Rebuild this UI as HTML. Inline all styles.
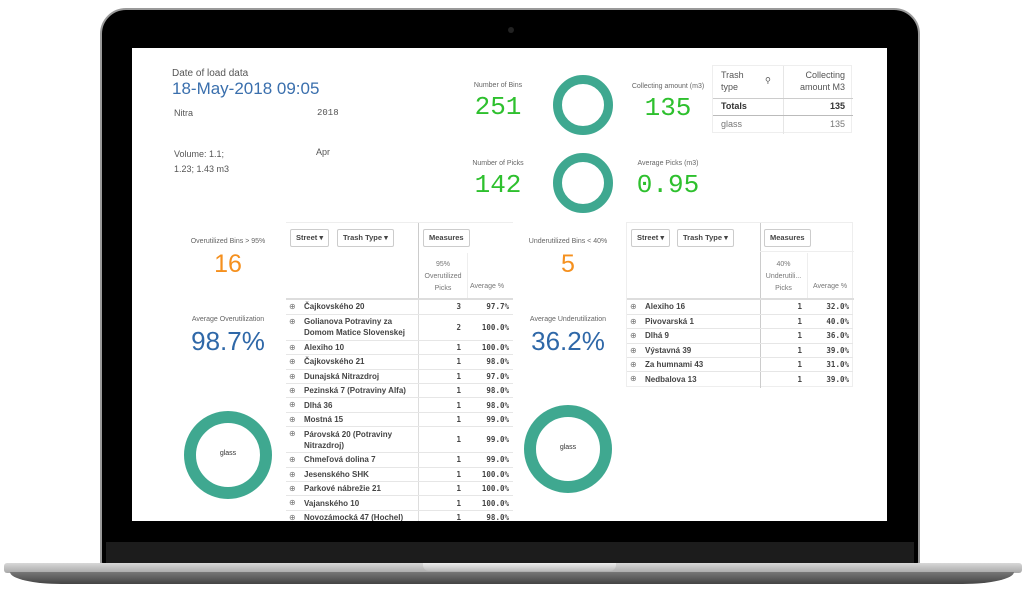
<!DOCTYPE html>
<html><head><meta charset="utf-8"><style>
*{margin:0;padding:0;box-sizing:border-box}
body{width:1024px;height:598px;background:#fff;position:relative;overflow:hidden;font-family:"Liberation Sans",sans-serif;color:#555}
.a{position:absolute;white-space:nowrap}
.c{text-align:center}
.lab{font-size:7px;color:#666}
.mono{font-family:"Liberation Mono","DejaVu Sans Mono",monospace}
.donut{position:absolute;border-radius:50%;border-style:solid;border-color:#3fa890;background:#fff}
table{border-collapse:collapse;font-size:8px}
.t td{height:14.4px;line-height:11px;padding-top:0;padding-bottom:0;border-bottom:1px solid #e6e6e6;font-weight:bold;color:#444}
.t td.n{padding-left:18px;position:relative}
.t td.n:before{content:"⊕";position:absolute;left:3px;top:1px;color:#777;font-weight:normal}
.t td.r{text-align:right;padding-right:4px;font-family:"DejaVu Sans Mono",monospace;font-size:7.5px}
.t td.p{border-left:1px solid #ddd}
.btn{position:absolute;border:1px solid #ccc;border-radius:2px;font-size:7.5px;font-weight:bold;color:#444;height:18px;line-height:16px;padding:0 5px}
</style></head><body>
<!-- laptop -->
<div class="a" style="left:100px;top:8px;width:820px;height:560px;background:#000;border-radius:26px 26px 6px 6px;border:2px solid #9a9a9a"></div>
<div class="a" style="left:106px;top:542px;width:808px;height:22px;background:#1c1c1c"></div>
<div class="a" style="left:4px;top:563px;width:1018px;height:10px;background:linear-gradient(#d8d8d8,#a8a8a8);border-radius:3px"></div>
<div class="a" style="left:10px;top:572px;width:1004px;height:12px;background:linear-gradient(#777,#444);border-radius:0 0 60px 60px/0 0 14px 14px"></div>
<div class="a" style="left:423px;top:563px;width:193px;height:8px;background:linear-gradient(#eee,#bbb);border-radius:0 0 6px 6px"></div>
<div class="a" style="left:508px;top:27px;width:6px;height:6px;border-radius:50%;background:#222"></div>
<!-- screen -->
<div class="a" style="left:132px;top:48px;width:755px;height:473px;background:#fff"></div>

<div class="a" style="left:172px;top:68px;font-size:10px;color:#555">Date of load data</div>
<div class="a" style="left:172px;top:79px;font-size:17px;color:#3a6fad">18-May-2018 09:05</div>
<div class="a" style="left:174px;top:108px;font-size:9px">Nitra</div>
<div class="a mono" style="left:317px;top:108px;font-size:9px">2018</div>
<div class="a" style="left:174px;top:147px;font-size:9px;line-height:15px">Volume: 1.1;<br>1.23; 1.43 m3</div>
<div class="a" style="left:316px;top:147px;font-size:9px">Apr</div>

<div class="a lab c" style="left:448px;top:82px;width:100px">Number of Bins</div>
<div class="a mono c" style="left:448px;top:92px;width:100px;font-size:26px;color:#2ec02e">251</div>
<div class="a lab c" style="left:448px;top:160px;width:100px">Number of Picks</div>
<div class="a mono c" style="left:448px;top:170px;width:100px;font-size:26px;color:#2ec02e">142</div>
<div class="donut" style="left:553px;top:75px;width:60px;height:60px;border-width:9px"></div>
<div class="donut" style="left:553px;top:153px;width:60px;height:60px;border-width:9px"></div>
<div class="a lab c" style="left:618px;top:83px;width:100px">Collecting amount (m3)</div>
<div class="a mono c" style="left:618px;top:93px;width:100px;font-size:26px;color:#2ec02e">135</div>
<div class="a lab c" style="left:618px;top:160px;width:100px">Average Picks (m3)</div>
<div class="a mono c" style="left:618px;top:170px;width:100px;font-size:26px;color:#2ec02e">0.95</div>

<div class="a" style="left:712px;top:65px;width:140px;height:68px;border:1px solid #eee;font-size:9px">
<div class="a" style="left:70px;top:0;width:1px;height:68px;background:#e6e6e6"></div>
<div class="a" style="left:8px;top:3px;line-height:12px">Trash<br>type</div>
<div class="a" style="left:52px;top:10px;font-size:8px">⚲</div>
<div class="a" style="right:6px;top:3px;line-height:12px;text-align:right">Collecting<br>amount M3</div>
<div class="a" style="left:0;top:32px;width:140px;height:1px;background:#ccc"></div>
<div class="a" style="left:8px;top:35px;font-weight:bold;color:#333">Totals</div>
<div class="a" style="right:6px;top:35px;font-weight:bold;color:#333">135</div>
<div class="a" style="left:0;top:49px;width:140px;height:1px;background:#bbb"></div>
<div class="a" style="left:8px;top:53px;color:#777">glass</div>
<div class="a" style="right:6px;top:53px;color:#777">135</div>
</div>

<!-- left KPIs -->
<div class="a lab c" style="left:178px;top:238px;width:100px">Overutilized Bins &gt; 95%</div>
<div class="a c" style="left:178px;top:250px;width:100px;font-size:25px;color:#f5901e">16</div>
<div class="a lab c" style="left:168px;top:316px;width:120px">Average Overutilization</div>
<div class="a c" style="left:158px;top:326px;width:140px;font-size:26px;color:#2f68a8">98.7%</div>
<div class="donut" style="left:184px;top:411px;width:88px;height:88px;border-width:12px"></div>
<div class="a c" style="left:184px;top:450px;width:88px;font-size:7px;color:#333">glass</div>

<div class="a lab c" style="left:518px;top:238px;width:100px">Underutilized Bins &lt; 40%</div>
<div class="a c" style="left:518px;top:250px;width:100px;font-size:25px;color:#f5901e">5</div>
<div class="a lab c" style="left:508px;top:316px;width:120px">Average Underutilization</div>
<div class="a c" style="left:498px;top:326px;width:140px;font-size:26px;color:#2f68a8">36.2%</div>
<div class="donut" style="left:524px;top:405px;width:88px;height:88px;border-width:12px"></div>
<div class="a c" style="left:524px;top:444px;width:88px;font-size:7px;color:#333">glass</div>

<!-- table 1 -->
<div class="a" style="left:286px;top:222px;width:227px;height:299px;overflow:hidden;border-top:1px solid #eee">
<div class="a" style="left:132px;top:0;width:1px;height:76px;background:#ccc"></div>
<div class="btn" style="left:4px;top:6px">Street ▾</div>
<div class="btn" style="left:51px;top:6px">Trash Type ▾</div>
<div class="btn" style="left:137px;top:6px">Measures</div>
<div class="a c" style="left:133px;top:36px;width:48px;font-size:7px;line-height:12px;color:#777">95%<br>Overutilized<br>Picks</div>
<div class="a" style="left:184px;top:60px;font-size:7px;color:#777">Average %</div>
<div class="a" style="left:181px;top:30px;width:1px;height:46px;background:#eee"></div>
<div class="a" style="left:0;top:75px;width:227px;height:2px;background:#ddd"></div>
<table class="t a" style="left:0;top:77px;width:227px">
<tr><td class="n" style="width:132px">Čajkovského 20</td><td class="r p" style="width:47px">3</td><td class="r">97.7%</td></tr>
<tr><td class="n" style="height:26px">Golianova Potraviny za<br>Domom Matice Slovenskej</td><td class="r p">2</td><td class="r">100.0%</td></tr>
<tr><td class="n">Alexiho 10</td><td class="r p">1</td><td class="r">100.0%</td></tr>
<tr><td class="n">Čajkovského 21</td><td class="r p">1</td><td class="r">98.0%</td></tr>
<tr><td class="n">Dunajská Nitrazdroj</td><td class="r p">1</td><td class="r">97.0%</td></tr>
<tr><td class="n">Pezinská 7 (Potraviny Alfa)</td><td class="r p">1</td><td class="r">98.0%</td></tr>
<tr><td class="n">Dlhá 36</td><td class="r p">1</td><td class="r">98.0%</td></tr>
<tr><td class="n">Mostná 15</td><td class="r p">1</td><td class="r">99.0%</td></tr>
<tr><td class="n" style="height:26px">Párovská 20 (Potraviny<br>Nitrazdroj)</td><td class="r p">1</td><td class="r">99.0%</td></tr>
<tr><td class="n">Chmeľová dolina 7</td><td class="r p">1</td><td class="r">99.0%</td></tr>
<tr><td class="n">Jesenského SHK</td><td class="r p">1</td><td class="r">100.0%</td></tr>
<tr><td class="n">Parkové nábrežie 21</td><td class="r p">1</td><td class="r">100.0%</td></tr>
<tr><td class="n">Vajanského 10</td><td class="r p">1</td><td class="r">100.0%</td></tr>
<tr><td class="n">Novozámocká 47 (Hochel)</td><td class="r p">1</td><td class="r">98.0%</td></tr>
</table>
</div>

<!-- table 2 -->
<div class="a" style="left:626px;top:222px;width:227px;height:165px;border:1px solid #eee">
<div class="a" style="left:133px;top:0;width:1px;height:165px;background:#ccc"></div>
<div class="btn" style="left:4px;top:6px">Street ▾</div>
<div class="btn" style="left:50px;top:6px">Trash Type ▾</div>
<div class="btn" style="left:137px;top:6px">Measures</div>
<div class="a" style="left:133px;top:28px;width:94px;height:1px;background:#eee"></div>
<div class="a c" style="left:134px;top:36px;width:45px;font-size:7px;line-height:12px;color:#777">40%<br>Underutili...<br>Picks</div>
<div class="a" style="left:186px;top:60px;font-size:7px;color:#777">Average %</div>
<div class="a" style="left:180px;top:30px;width:1px;height:46px;background:#eee"></div>
<div class="a" style="left:0;top:75px;width:227px;height:2px;background:#ddd"></div>
<table class="t a" style="left:0;top:77px;width:226px">
<tr><td class="n" style="width:133px">Alexiho 16</td><td class="r" style="width:46px">1</td><td class="r">32.0%</td></tr>
<tr><td class="n">Pivovarská 1</td><td class="r">1</td><td class="r">40.0%</td></tr>
<tr><td class="n">Dlhá 9</td><td class="r">1</td><td class="r">36.0%</td></tr>
<tr><td class="n">Výstavná 39</td><td class="r">1</td><td class="r">39.0%</td></tr>
<tr><td class="n">Za humnami 43</td><td class="r">1</td><td class="r">31.0%</td></tr>
<tr><td class="n" style="border-bottom:none">Nedbalova 13</td><td class="r" style="border-bottom:none">1</td><td class="r" style="border-bottom:none">39.0%</td></tr>
</table>
</div>
</body></html>
